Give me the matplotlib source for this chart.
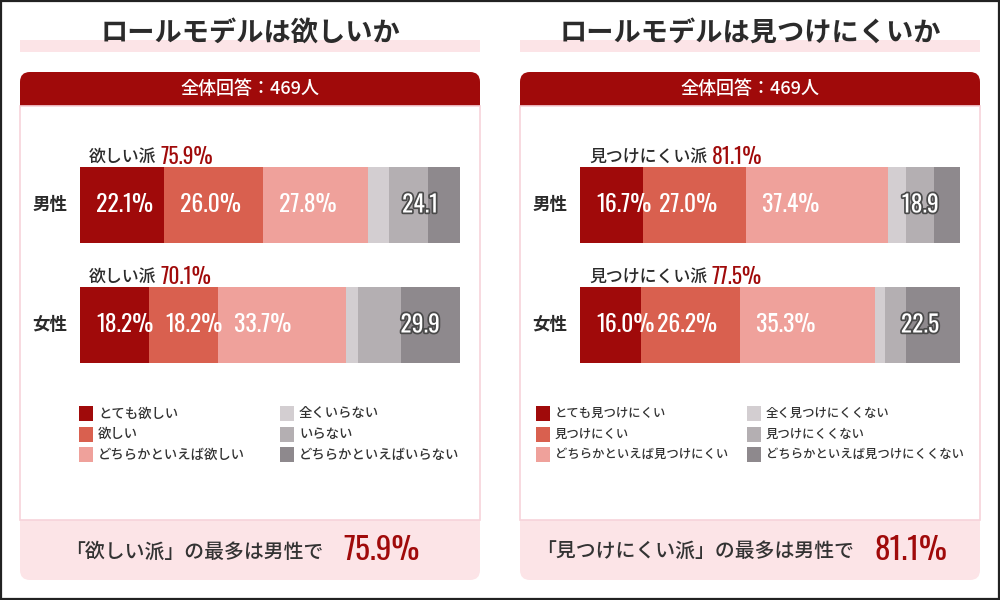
import matplotlib
matplotlib.use("Agg")
import matplotlib.pyplot as plt
from matplotlib.patches import Rectangle, FancyBboxPatch
import matplotlib.patheffects as pe

JP = ["Noto Sans CJK JP", "DejaVu Sans"]
NUM = ["Oswald", "Roboto Condensed", "DejaVu Sans"]
plt.rcParams["font.family"] = JP

# ---------------- data ----------------
titles = ["ロールモデルは欲しいか", "ロールモデルは見つけにくいか"]
header_text = "全体回答：469人"
groups = ["男性", "女性"]
camp_labels = ["欲しい派", "見つけにくい派"]
cats_left = ["とても欲しい", "欲しい", "どちらかといえば欲しい",
             "全くいらない", "いらない", "どちらかといえばいらない"]
cats_right = ["とても見つけにくい", "見つけにくい", "どちらかといえば見つけにくい",
              "全く見つけにくくない", "見つけにくくない", "どちらかといえば見つけにくくない"]
left_male = [22.1, 26.0, 27.8, 5.4, 10.3, 8.4]
left_female = [18.2, 18.2, 33.7, 3.0, 11.4, 15.5]
right_male = [16.7, 27.0, 37.4, 4.7, 7.4, 6.8]
right_female = [16.0, 26.2, 35.3, 2.7, 5.5, 14.3]
footer_texts = ["「欲しい派」の最多は男性で", "「見つけにくい派」の最多は男性で"]
footer_values = ["75.9%", "81.1%"]

colors = ["#A00A0A", "#D9604F", "#EFA19B", "#D3CED1", "#B4AFB2", "#8E898D"]
RED = "#A00A0A"
PINK = "#FCE4E7"
DARK = "#2B2B2B"

panels = [
    (titles[0], camp_labels[0], cats_left, [left_male, left_female], footer_texts[0], footer_values[0]),
    (titles[1], camp_labels[1], cats_right, [right_male, right_female], footer_texts[1], footer_values[1]),
]

fig = plt.figure(figsize=(10, 6), dpi=100)
bg = fig.add_axes([0, 0, 1, 1])
bg.set_xlim(0, 1000)
bg.set_ylim(600, 0)
bg.axis("off")
bg.add_patch(Rectangle((1, 1), 998, 598, fill=False, ec="#222222", lw=1.6, zorder=10))

legend_x = [[79, 280], [536, 747]]
legend_fs = [9.6, 8.9]
footer_items = []

for p, (title, camp, cats, rows, ftxt, fval) in enumerate(panels):
    x0 = 20 + 500 * p
    # title with pink underline band
    bg.add_patch(Rectangle((x0, 40), 460, 12, fc=PINK, ec="none", zorder=1))
    bg.text(x0 + 230, 32.5, title, ha="center", va="center", fontsize=19.6,
            weight="bold", color=DARK, zorder=2)
    # card
    bg.add_patch(FancyBboxPatch((x0, 72), 460, 508, boxstyle="round,pad=0,rounding_size=10",
                                fc=PINK, ec="none", zorder=1))
    bg.add_patch(FancyBboxPatch((x0, 72), 460, 44, boxstyle="round,pad=0,rounding_size=10",
                                fc=RED, ec="none", zorder=2))
    bg.add_patch(Rectangle((x0, 106), 460, 414, fc="white", ec="#F7D3DA", lw=1.2, zorder=3))
    bg.text(x0 + 230, 89, header_text, ha="center", va="center", fontsize=13,
            weight="medium", color="white", zorder=4)

    # bars
    ax = fig.add_axes([(x0 + 60) / 1000, (600 - 385) / 600, 380 / 1000, 240 / 600])
    ax.set_xlim(0, 100)
    ax.set_ylim(2, 0)
    ax.axis("off")
    for i, (grp, vals) in enumerate(zip(groups, rows)):
        y = 0.5 + i
        left = 0.0
        for j, (v, c) in enumerate(zip(vals, colors)):
            ax.barh(y, v, left=left, height=0.633, color=c, edgecolor="none")
            if j < 3:
                ax.text(left + 4.2, y, f"{v:.1f}%", ha="left", va="center", fontsize=17,
                        color="white", family=NUM, weight="bold")
            left += v
        neg = sum(vals[3:])
        pos = sum(vals[:3])
        ax.text(89.5, y, f"{neg:.1f}", ha="center", va="center", fontsize=17, color="white",
                family=NUM, weight="bold",
                path_effects=[pe.withStroke(linewidth=2.5, foreground="#4A4A4A")])
        t = ax.text(2.4, y - 0.4, camp, ha="left", va="center", fontsize=12.2,
                    weight="medium", color=DARK)
        ax.annotate(f"{pos:.1f}%", xy=(1, 0.5), xycoords=t, xytext=(3, 0),
                    textcoords="offset points", ha="left", va="center", fontsize=15.5,
                    color=RED, family=NUM, weight="bold")
        ax.text(-30 / 380, y, grp, transform=ax.get_yaxis_transform(), ha="center",
                va="center", fontsize=12.6, weight="bold", color=DARK)

    # legend
    for j, (cat, c) in enumerate(zip(cats, colors)):
        col, row = divmod(j, 3)
        sx = legend_x[p][col]
        yy = 413.5 + 20.5 * row
        bg.add_patch(Rectangle((sx, yy - 7.5), 14, 15, fc=c, ec="none", zorder=4))
        bg.text(sx + 19, yy, cat, ha="left", va="center", fontsize=legend_fs[p],
                weight="medium", color="#333333", zorder=4)

    # footer
    ft = bg.text(0, 552, ftxt, ha="left", va="center", fontsize=14.3,
                 weight="medium", color="#333333", zorder=4)
    fv = bg.text(0, 551, fval, ha="left", va="center", fontsize=22.5, color=RED,
                 family=NUM, weight="bold", zorder=4)
    footer_items.append((x0, ft, fv))

fig.canvas.draw()
renderer = fig.canvas.get_renderer()
gap = 20
for x0, ft, fv in footer_items:
    w1 = ft.get_window_extent(renderer).width
    w2 = fv.get_window_extent(renderer).width
    start = x0 + 222 - (w1 + gap + w2) / 2
    ft.set_x(start)
    fv.set_x(start + w1 + gap)

fig.savefig("out.png", dpi=100)
